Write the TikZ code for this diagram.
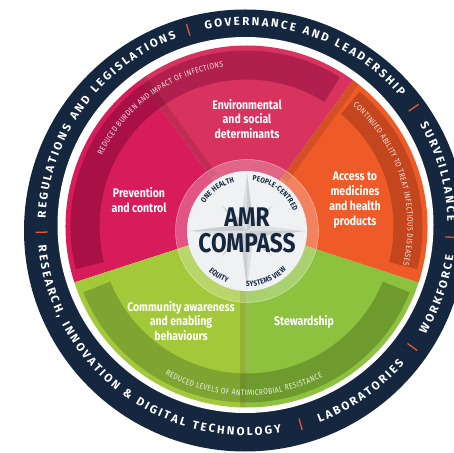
\documentclass[tikz,border=0pt]{standalone}
\usepackage{fontspec}
\setmainfont{Fira Sans}
\newfontfamily\condfont[FakeStretch=0.84]{Fira Sans}
\newfontfamily\ringfont{Fira Sans}
\usetikzlibrary{calc,decorations.text}
\definecolor{navy}{HTML}{14273F}
\definecolor{envred}{HTML}{D8325F}
\definecolor{envband}{HTML}{B01F4D}
\definecolor{prevred}{HTML}{D81B5B}
\definecolor{prevband}{HTML}{A91046}
\definecolor{accorange}{HTML}{EF5A29}
\definecolor{accband}{HTML}{C4461E}
\definecolor{stewgreen}{HTML}{8DC23F}
\definecolor{stewband}{HTML}{6E9A2E}
\definecolor{comgreen}{HTML}{A3C93A}
\definecolor{comband}{HTML}{7FA431}
\definecolor{sepline}{HTML}{E8572A}
\definecolor{compgrey}{HTML}{F0F1F2}
\definecolor{stargrey}{HTML}{DDE0E3}
\definecolor{stardark}{HTML}{CACED3}
\tikzset{
  seglabel/.style={text=white, font=\condfont\bfseries\fontsize{12.5}{14.8}\selectfont, align=center},
  ringtext/.style={decorate, decoration={text effects along path, text={#1}, text align=center,
    text effects/.cd, text along path,
    characters={text=white, font=\ringfont\bfseries\fontsize{11.5}{12}\selectfont},
    character widths={font=\ringfont\bfseries\fontsize{11.5}{12}\selectfont, inner xsep=1.15pt}}},
  bandtext/.style={decorate, decoration={text effects along path, text={#1}, text align=center,
    text effects/.cd, text along path,
    characters={text=white, text opacity=0.85, font=\condfont\fontsize{8}{8}\selectfont},
    character widths={font=\condfont\fontsize{8}{8}\selectfont, inner xsep=0.2pt}}},
  comptext/.style={decorate, decoration={text effects along path, text={#1}, text align=center,
    text effects/.cd, text along path,
    characters={text=navy, font=\condfont\bfseries\fontsize{7.6}{8}\selectfont},
    character widths={font=\condfont\bfseries\fontsize{7.6}{8}\selectfont, inner xsep=0.1pt}}},
  edgeshadow/.style={black, opacity=0.11, line width=7pt},
  sep/.style={sepline, line width=1.3pt}
}
\begin{document}
\begin{tikzpicture}[x=1pt,y=1pt]
\useasboundingbox (0,0) rectangle (454,452);
\coordinate (D) at (246.5,225.5);
\coordinate (K) at (247,221);
\coordinate (O) at (245,221.5);
% outer ring
\fill[navy] (O) circle[radius=221];
\fill[white] (245.5,227) circle[radius=188];
% five sectors
\fill[envred] (D) -- ($(D)+(54:181)$) arc[start angle=54,end angle=126,radius=181] -- cycle;
\fill[prevred] (D) -- ($(D)+(126:181)$) arc[start angle=126,end angle=198,radius=181] -- cycle;
\fill[comgreen] (D) -- ($(D)+(198:181)$) arc[start angle=198,end angle=270,radius=181] -- cycle;
\fill[stewgreen] (D) -- ($(D)+(270:181)$) arc[start angle=270,end angle=342,radius=181] -- cycle;
\fill[accorange] (D) -- ($(D)+(-18:181)$) arc[start angle=-18,end angle=54,radius=181] -- cycle;
% outcome bands
\fill[prevband] ($(D)+(126:176)$) arc[start angle=126,end angle=194,radius=176] -- ($(D)+(194:147)$) arc[start angle=194,end angle=126,radius=147] -- cycle;
\fill[envband] ($(D)+(58:176)$) arc[start angle=58,end angle=126,radius=176] -- ($(D)+(126:147)$) arc[start angle=126,end angle=58,radius=147] -- cycle;
\fill[accband] ($(D)+(-14:176)$) arc[start angle=-14,end angle=50,radius=176] -- ($(D)+(50:147)$) arc[start angle=50,end angle=-14,radius=147] -- cycle;
\fill[comband] ($(D)+(202:176)$) arc[start angle=202,end angle=270,radius=176] -- ($(D)+(270:147)$) arc[start angle=270,end angle=202,radius=147] -- cycle;
\fill[stewband] ($(D)+(270:176)$) arc[start angle=270,end angle=338,radius=176] -- ($(D)+(338:147)$) arc[start angle=338,end angle=270,radius=147] -- cycle;
% shadows along the sector edges
\begin{scope}
  \clip (D) circle[radius=181];
  \draw[edgeshadow] ($(D)+(126:60)+(36:3.5)$) -- ($(D)+(126:185)+(36:3.5)$);
  \draw[edgeshadow] ($(D)+(54:60)+(-36:3.5)$) -- ($(D)+(54:185)+(-36:3.5)$);
  \draw[edgeshadow] ($(D)+(270:60)+(180:3.5)$) -- ($(D)+(270:185)+(180:3.5)$);
\end{scope}
\path[bandtext={REDUCED BURDEN AND IMPACT OF INFECTIONS}] ($(D)+(171:161)$) arc[start angle=171,end angle=81,radius=161];
\path[bandtext={CONTINUED ABILITY TO TREAT INFECTIOUS DISEASES}] ($(D)+(62.5:161)$) arc[start angle=62.5,end angle=-27.5,radius=161];
\path[bandtext={REDUCED LEVELS OF ANTIMICROBIAL RESISTANCE}] ($(D)+(224:169)$) arc[start angle=224,end angle=314,radius=169];
% segment labels
\node[seglabel] (env) at (247,333) {Environmental\\and social\\determinants};
\node[seglabel] (prev) at (139,252) {Prevention\\and control};
\node[seglabel] (acc) at (355,252) {Access to\\medicines\\and health\\products};
\node[seglabel] (com) at (181,131) {Community awareness\\and enabling\\behaviours};
\node[seglabel] (stew) at (304,130) {Stewardship};
% compass
\fill[white,opacity=0.25] (K) circle[radius=71.5];
\draw[white,opacity=0.5,line width=0.5pt] (K) circle[radius=71.5];
\fill[compgrey] (K) circle[radius=60];
\foreach \a in {45,135,225,315}{
  \fill[stargrey] (K) -- ($(K)+(\a:36)$) -- ($(K)+({\a+45}:7)$) -- cycle;
  \fill[stardark] (K) -- ($(K)+(\a:36)$) -- ($(K)+({\a-45}:7)$) -- cycle;
}
\foreach \a in {0,90,180,270}{
  \fill[stargrey] (K) -- ($(K)+(\a:58)$) -- ($(K)+({\a+45}:9)$) -- cycle;
  \fill[stardark] (K) -- ($(K)+(\a:58)$) -- ($(K)+({\a-45}:9)$) -- cycle;
}
\node[text=navy, font=\condfont\bfseries\fontsize{27}{27}\selectfont] (amr) at (247,234.5) {AMR};
\node[text=navy, font=\condfont\bfseries\fontsize{27}{27}\selectfont] (cmp) at (247,208.5) {COMPASS};
\path[comptext={ONE HEALTH}] ($(K)+(160.6:50.5)$) arc[start angle=160.6,end angle=90.6,radius=50.5];
\path[comptext={PEOPLE-CENTRED}] ($(K)+(98.7:50.5)$) arc[start angle=98.7,end angle=8.7,radius=50.5];
\path[comptext={EQUITY}] ($(K)+(207.7:55.5)$) arc[start angle=207.7,end angle=267.7,radius=55.5];
\path[comptext={SYSTEMS VIEW}] ($(K)+(257:55.5)$) arc[start angle=257,end angle=327,radius=55.5];
% ring labels
\path[ringtext={REGULATIONS AND LEGISLATIONS}] ($(D)+(189:201)$) arc[start angle=189,end angle=99,radius=201];
\path[ringtext={GOVERNANCE AND LEADERSHIP}] ($(D)+(111:201)$) arc[start angle=111,end angle=31,radius=201];
\path[ringtext={SURVEILLANCE}] ($(D)+(41:201)$) arc[start angle=41,end angle=-9,radius=201];
\path[ringtext={WORKFORCE}] ($(D)+(-44.5:209)$) arc[start angle=-44.5,end angle=5.5,radius=209];
\path[ringtext={LABORATORIES}] ($(D)+(-80.3:209)$) arc[start angle=-80.3,end angle=-30.3,radius=209];
\path[ringtext={RESEARCH, INNOVATION {\&} DIGITAL TECHNOLOGY}] ($(D)+(-187.5:209)$) arc[start angle=-187.5,end angle=-67.5,radius=209];
% separators
\foreach \a in {181.6,106.5,35.4,-3,-36,-74.7}
  \draw[sep] ($(D)+(\a:199)$) -- ($(D)+(\a:211)$);
\end{tikzpicture}
\end{document}
